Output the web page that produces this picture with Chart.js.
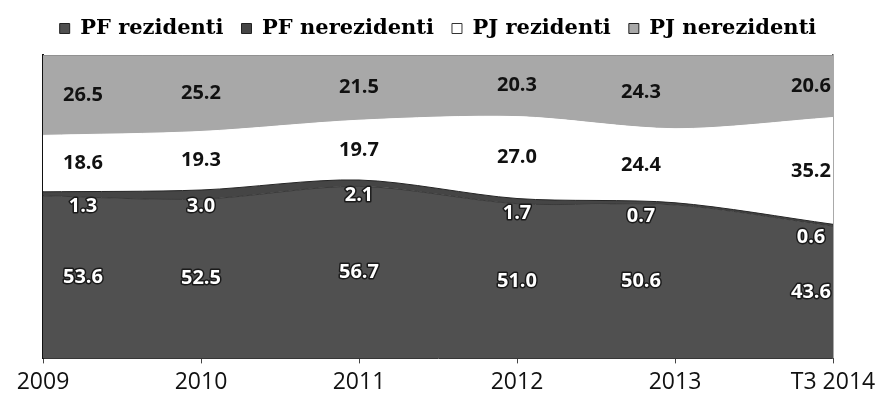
<!DOCTYPE html>
<html>
<head>
<meta charset="utf-8">
<script src="https://cdn.jsdelivr.net/npm/chart.js@4.4.1/dist/chart.umd.min.js"></script>
<style>
  html, body { margin:0; padding:0; background:#fff; }
  #wrap { width:888px; height:407px; position:relative; }
</style>
</head>
<body>
<div id="wrap"><canvas id="c"></canvas></div>
<script>
// --- Data ---
const years = ['2009', '2010', '2011', '2012', '2013', 'T3 2014'];
const pfRez = [53.6, 52.5, 56.7, 51.0, 50.6, 43.6];
const pfNerez = [1.3, 3.0, 2.1, 1.7, 0.7, 0.6];
const pjRez = [18.6, 19.3, 19.7, 27.0, 24.4, 35.2];
const pjNerez = [26.5, 25.2, 21.5, 20.3, 24.3, 20.6];

const series = [
    {label:'PF rezidenti', data:pfRez, bg:'#505050', line:'#3a3a3a'},
    {label:'PF nerezidenti', data:pfNerez, bg:'#454545', line:'#262626'},
    {label:'PJ rezidenti', data:pjRez, bg:'#ffffff', line:'#ffffff'},
    {label:'PJ nerezidenti', data:pjNerez, bg:'#a8a8a8', line:'#7a7a7a'}
];

// --- Value labels (centred in each band) ---
const shiftX = [40, 0, 0, 0, -34, -22];
const bandLabels = {
    id:'bandLabels',
    afterDatasetsDraw(chart) {
        const ctx = chart.ctx, y = chart.scales.y;
        ctx.save();
        ctx.font = "bold 20px 'Open Sans'";
        ctx.textAlign = 'center';
        ctx.textBaseline = 'middle';
        ctx.lineJoin = 'round';
        series.forEach((s, i) => {
            const meta = chart.getDatasetMeta(i);
            s.data.forEach((v, j) => {
                let base = 0;
                for (let k = 0; k < i; k++) base += series[k].data[j];
                const px = meta.data[j].x + shiftX[j];
                let py = y.getPixelForValue(base + v / 2);
                if (i === 1) py += 12;
                const txt = v.toFixed(1);
                if (i < 2) {
                    ctx.strokeStyle = '#1a1a1a'; ctx.lineWidth = 3;
                    ctx.strokeText(txt, px, py);
                    ctx.fillStyle = '#ffffff';
                } else {
                    ctx.fillStyle = '#111111';
                }
                ctx.fillText(txt, px, py);
            });
        });
        ctx.restore();
    }
};

// extra space under the legend
const legendGap = {
    id:'legendGap',
    beforeInit(chart) {
        const fit = chart.legend.fit;
        chart.legend.fit = function() { fit.bind(chart.legend)(); this.height += 6; };
    }
};

new Chart(document.getElementById('c'), {
    type:'line',
    data:{
        labels:years,
        datasets:series.map((s, i) => ({
            label:s.label, data:s.data,
            backgroundColor:s.bg, borderColor:s.line, borderWidth:1,
            fill: i === 0 ? 'origin' : '-1',
            tension:0.3, pointRadius:0, pointHoverRadius:0
        }))
    },
    options:{
        responsive:true, maintainAspectRatio:false, animation:false,
        layout:{padding:{left:35, right:47, top:0, bottom:6}},
        plugins:{
            tooltip:{enabled:false},
            legend:{
                position:'top',
                labels:{
                    color:'#000', boxWidth:10, boxHeight:10, padding:18,
                    font:{family:"'DejaVu Serif'", size:21, weight:'bold'},
                    generateLabels(chart) {
                        return series.map((s, i) => ({
                            text:s.label, fillStyle:s.bg,
                            strokeStyle: i === 2 ? '#333' : '#222',
                            lineWidth:1, datasetIndex:i, hidden:false
                        }));
                    }
                }
            }
        },
        scales:{
            x:{
                type:'category', offset:false,
                grid:{drawOnChartArea:false, drawTicks:true, tickLength:5, color:'#444'},
                border:{display:true, color:'#333', width:1},
                ticks:{color:'#111', padding:5, maxRotation:0, font:{family:"'Open Sans'", size:23}}
            },
            y:{
                stacked:true, min:0, max:100,
                grid:{display:false},
                border:{display:true, color:'#111', width:2},
                ticks:{display:false}
            },
            y2:{
                position:'right', min:0, max:100,
                grid:{display:false},
                border:{display:true, color:'#555', width:1.5},
                ticks:{display:false}
            }
        }
    },
    plugins:[bandLabels, legendGap]
});
</script>
</body>
</html>
